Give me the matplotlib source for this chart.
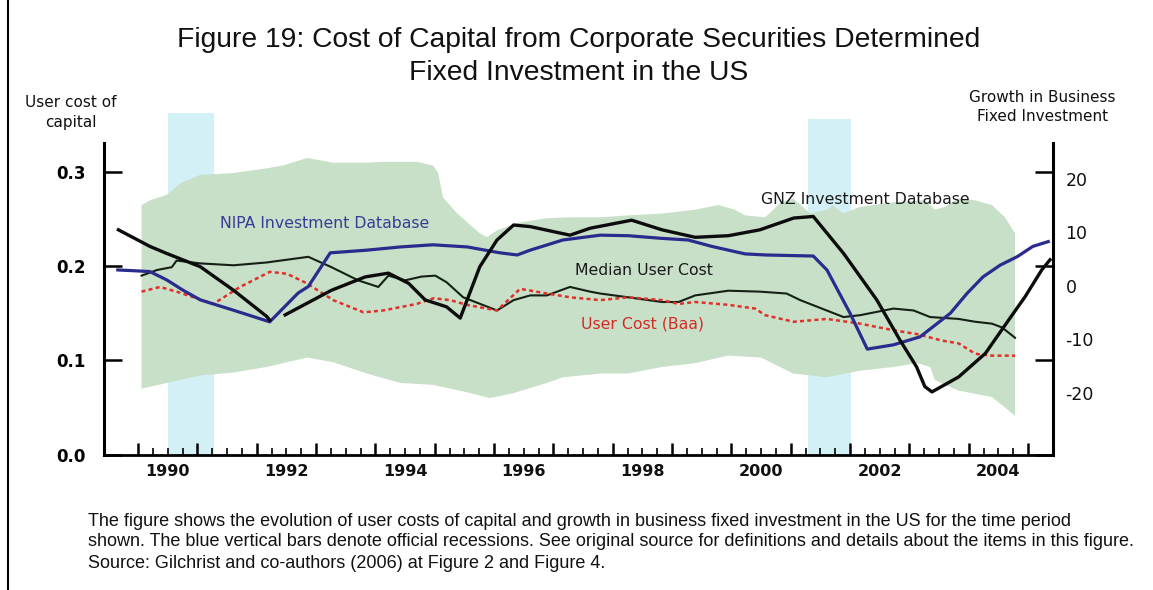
import matplotlib
matplotlib.use("Agg")
import matplotlib.pyplot as plt
import matplotlib.transforms as mtransforms
from matplotlib.lines import Line2D
import numpy as np

# ---------------- data ----------------
recession_start = [1990.51, 2001.29]
recession_end = [1991.28, 2002.02]

band_upper_year = [1990.06, 1990.20, 1990.49, 1990.71, 1991.05, 1991.60, 1992.17, 1992.44, 1992.85, 1993.29,
                   1993.86, 1994.13, 1994.70, 1994.97, 1995.06, 1995.14, 1995.38, 1995.76, 1995.88, 1996.05,
                   1996.39, 1996.89, 1997.28, 1997.79, 1998.26, 1998.83, 1999.39, 1999.78, 2000.06, 2000.23,
                   2000.57, 2000.82, 2001.04, 2001.33, 2001.61, 2001.71, 2001.88, 2002.17, 2002.73, 2003.26,
                   2003.43, 2003.60, 2003.82, 2004.11, 2004.39, 2004.61, 2004.78]
band_upper = [0.265, 0.270, 0.276, 0.288, 0.297, 0.299, 0.304, 0.307, 0.315, 0.310,
              0.310, 0.311, 0.311, 0.307, 0.299, 0.273, 0.256, 0.235, 0.231, 0.238,
              0.246, 0.251, 0.252, 0.252, 0.254, 0.256, 0.260, 0.265, 0.260, 0.254,
              0.252, 0.267, 0.272, 0.256, 0.260, 0.265, 0.256, 0.263, 0.268, 0.270,
              0.260, 0.263, 0.272, 0.270, 0.265, 0.252, 0.235]

band_lower_year = [1990.06, 1990.49, 1991.05, 1991.60, 1992.17, 1992.85, 1993.29, 1993.86, 1994.42, 1994.97,
                   1995.55, 1995.93, 1996.32, 1996.89, 1997.16, 1997.79, 1998.26, 1998.83, 1999.39, 1999.94,
                   2000.50, 2001.04, 2001.61, 2002.17, 2002.73, 2003.13, 2003.35, 2003.43, 2003.82, 2004.39,
                   2004.61, 2004.78]
band_lower = [0.070, 0.076, 0.084, 0.087, 0.093, 0.103, 0.098, 0.086, 0.076, 0.074,
              0.066, 0.060, 0.065, 0.076, 0.082, 0.086, 0.086, 0.093, 0.097, 0.105,
              0.103, 0.086, 0.082, 0.089, 0.093, 0.097, 0.093, 0.079, 0.068, 0.061,
              0.050, 0.041]

median_year = [1990.06, 1990.32, 1990.57, 1990.65, 1991.05, 1991.61, 1992.17, 1992.87, 1993.26, 1993.71,
               1994.05, 1994.22, 1994.50, 1994.78, 1995.01, 1995.20, 1995.48, 1996.05, 1996.33, 1996.61,
               1996.89, 1997.28, 1997.62, 1997.79, 1998.26, 1998.83, 1999.11, 1999.39, 1999.95, 2000.48,
               2000.93, 2001.16, 2001.89, 2002.17, 2002.73, 2003.07, 2003.35, 2003.83, 2004.11, 2004.39,
               2004.56, 2004.78]
median_cost = [0.190, 0.196, 0.199, 0.206, 0.203, 0.201, 0.204, 0.210, 0.199, 0.185,
               0.178, 0.190, 0.185, 0.189, 0.190, 0.183, 0.167, 0.153, 0.164, 0.169,
               0.169, 0.178, 0.173, 0.171, 0.167, 0.162, 0.162, 0.169, 0.174, 0.173,
               0.171, 0.164, 0.146, 0.148, 0.155, 0.153, 0.146, 0.144, 0.141, 0.139,
               0.135, 0.124]

baa_year = [1990.06, 1990.37, 1990.65, 1991.27, 1991.72, 1992.22, 1992.51, 1992.84, 1993.29, 1993.80,
            1994.13, 1994.70, 1994.98, 1995.26, 1995.54, 1996.05, 1996.44, 1996.89, 1997.28, 1997.79,
            1998.26, 1998.83, 1999.11, 1999.39, 1999.95, 2000.40, 2000.57, 2001.05, 2001.61, 2002.17,
            2002.73, 2003.12, 2003.55, 2003.83, 2004.11, 2004.39, 2004.78]
baa_cost = [0.173, 0.178, 0.173, 0.160, 0.178, 0.194, 0.192, 0.182, 0.164, 0.151,
            0.153, 0.160, 0.166, 0.164, 0.159, 0.153, 0.176, 0.171, 0.167, 0.164,
            0.167, 0.164, 0.160, 0.162, 0.159, 0.155, 0.148, 0.141, 0.144, 0.139,
            0.132, 0.128, 0.121, 0.118, 0.107, 0.105, 0.105]

nipa_year = [1989.66, 1990.20, 1990.49, 1990.76, 1991.05, 1991.60, 1992.22, 1992.70, 1992.87, 1993.24,
             1993.86, 1994.42, 1994.97, 1995.55, 1996.10, 1996.39, 1996.61, 1997.16, 1997.79, 1998.26,
             1998.83, 1999.27, 1999.67, 2000.23, 2000.57, 2001.38, 2001.61, 2002.00, 2002.29, 2002.73,
             2003.18, 2003.40, 2003.69, 2003.97, 2004.24, 2004.53, 2004.82, 2005.08, 2005.34]
nipa_growth = [3.0, 2.7, 1.1, -0.8, -2.6, -4.5, -6.7, -1.3, -0.1, 6.2,
               6.7, 7.3, 7.7, 7.3, 6.2, 5.8, 6.7, 8.6, 9.5, 9.4,
               8.9, 8.6, 7.4, 6.0, 5.8, 5.6, 3.0, -5.1, -11.8, -11.0,
               -9.5, -7.6, -5.1, -1.4, 1.7, 3.9, 5.5, 7.4, 8.3]

gnz_year = [1989.67, 1990.20, 1990.48, 1991.05, 1991.61, 1992.17, 1992.22, 1992.35, 1992.48, 1993.26,
            1993.83, 1994.22, 1994.56, 1994.84, 1995.20, 1995.43, 1995.76, 1996.05, 1996.33, 1996.61,
            1997.28, 1997.62, 1998.32, 1998.83, 1999.39, 1999.95, 2000.48, 2001.05, 2001.38, 2001.89,
            2002.45, 2002.84, 2003.12, 2003.26, 2003.38, 2003.83, 2004.28, 2004.67, 2004.95, 2005.23,
            2005.37]
gnz_growth = [10.5, 7.4, 6.1, 3.6, -0.8, -5.7, -6.4, np.nan, -5.4, -0.8,
              1.7, 2.4, 0.5, -2.6, -3.9, -6.0, 3.6, 8.6, 11.4, 11.1,
              9.5, 10.8, 12.3, 10.5, 9.1, 9.4, 10.5, 12.7, 13.0, 6.1,
              -2.6, -10.1, -15.1, -18.8, -19.8, -17.0, -12.6, -6.4, -2.0, 3.0,
              4.9]

left_ticks = [0.0, 0.1, 0.2, 0.3]
left_ticklabels = ["0.0", "0.1", "0.2", "0.3"]
right_ticks = [20, 10, 0, -10, -20]
year_labels = [1990, 1992, 1994, 1996, 1998, 2000, 2002, 2004]

title_lines = ["Figure 19: Cost of Capital from Corporate Securities Determined",
               "Fixed Investment in the US"]
caption_lines = [
    "The figure shows the evolution of user costs of capital and growth in business fixed investment in the US for the time period",
    "shown. The blue vertical bars denote official recessions. See original source for definitions and details about the items in this figure.",
    "Source: Gilchrist and co-authors (2006) at Figure 2 and Figure 4.",
]

# ---------------- figure ----------------
W, H = 1153, 590
fig = plt.figure(figsize=(W / 100, H / 100), dpi=100)
fig.patch.set_facecolor("white")

ax_l, ax_r, ax_b, ax_t = 104, 1053, 454.5, 143
ax = fig.add_axes([ax_l / W, (H - ax_b) / H, (ax_r - ax_l) / W, (ax_b - ax_t) / H])
ax.set_facecolor("none")

VTOP = 0.3309
RBOT, RTOP = -31.5, 26.73
ax.set_xlim(1989.427, 2005.42)
ax.set_ylim(0, VTOP)

GREEN = "#c8e0c8"
CYAN = "#d2f0f6"
NAVY = "#2b2b8e"
RED = "#e0302a"

# recession bars extend above the plotting area
bar_tops = [(ax_b - 113) / (ax_b - ax_t), (ax_b - 119) / (ax_b - ax_t)]
for s, e, tp in zip(recession_start, recession_end, bar_tops):
    p = ax.axvspan(s, e, ymin=0, ymax=tp, color=CYAN, lw=0, zorder=0.5)
    p.set_clip_on(False)

# green band
ax.fill(list(band_upper_year) + list(band_lower_year[::-1]),
        list(band_upper) + list(band_lower[::-1]),
        color=GREEN, lw=0, zorder=1)

ax.plot(median_year, median_cost, color="#142014", lw=1.5, zorder=3)
ax.plot(baa_year, baa_cost, color=RED, lw=1.8, ls=(0, (1.6, 1.3)), zorder=3)

tw = ax.twinx()
tw.set_ylim(RBOT, RTOP)
tw.plot(nipa_year, nipa_growth, color=NAVY, lw=2.3, zorder=4)
tw.plot(gnz_year, gnz_growth, color="#0c0c0c", lw=2.4, zorder=5)

# spines
for sp in ["top", "right"]:
    ax.spines[sp].set_visible(False)
for sp in ["top", "left", "bottom"]:
    tw.spines[sp].set_visible(False)
ax.spines["left"].set_linewidth(2.2)
ax.spines["bottom"].set_linewidth(2.0)
tw.spines["right"].set_linewidth(2.2)

# y ticks left
ax.set_yticks(left_ticks)
ax.set_yticklabels(left_ticklabels)
ax.tick_params(axis="y", which="major", direction="in", length=13, width=1.8, pad=13,
               left=True, right=True, labelright=False, labelsize=12)
for lab in ax.get_yticklabels():
    lab.set_fontweight("bold")
    lab.set_family("DejaVu Sans")

# x ticks
ax.set_xticks(np.arange(1990, 2006, 1))
ax.set_xticks(np.arange(1990, 2005.01, 0.25), minor=True)
ax.tick_params(axis="x", which="major", direction="in", length=8.5, width=1.8, labelbottom=False)
ax.tick_params(axis="x", which="minor", direction="in", length=5, width=1.2)
trans = mtransforms.blended_transform_factory(ax.transData, ax.transAxes)
for yr in year_labels:
    ax.text(yr + 0.5, -(472 - ax_b) / (ax_b - ax_t), str(yr), transform=trans, ha="center", va="center",
            fontsize=11.5, fontweight="bold", family="DejaVu Sans", color="#111")

# right ticks
tw.set_yticks(right_ticks)
tw.set_yticklabels([str(v) for v in right_ticks])
tw.tick_params(axis="y", length=0, pad=9, labelsize=12.5, colors="#111")

# series labels
ax.text(1993.15, 0.245, "NIPA Investment Database", color="#3a3a96", fontsize=11.3,
        ha="center", va="center", zorder=6)
ax.text(1998.53, 0.195, "Median User Cost", color="#1a1a1a", fontsize=11.3,
        ha="center", va="center", zorder=6)
ax.text(1998.51, 0.139, "User Cost (Baa)", color="#d42a24", fontsize=11.3,
        ha="center", va="center", zorder=6)
ax.text(2002.25, 0.271, "GNZ Investment Database", color="#1a1a1a", fontsize=11.3,
        ha="center", va="center", zorder=6)

# axis titles
fig.text(70.5 / W, 1 - 112.5 / H, "User cost of\ncapital", ha="center", va="center",
         fontsize=11, linespacing=1.4, color="#111")
fig.text(1042.5 / W, 1 - 107 / H, "Growth in Business\nFixed Investment", ha="center", va="center",
         fontsize=11, linespacing=1.33, color="#111")

# fitting helper for title/caption
renderer = fig.canvas.get_renderer()


def fit_size(text, family, target_px, base=12.0):
    t = fig.text(0, 0, text, fontsize=base, family=family)
    w = t.get_window_extent(renderer=renderer).width
    t.remove()
    return base * target_px / w


ts = fit_size(title_lines[0], "Liberation Sans", 807)
fig.text(578.5 / W, 1 - 40 / H, title_lines[0], ha="center", va="center", fontsize=ts,
         family="Liberation Sans", color="#111")
fig.text(578.5 / W, 1 - 73 / H, title_lines[1], ha="center", va="center", fontsize=ts,
         family="Liberation Sans", color="#111")

# caption: keep the longest line (line 2) inside the page
cs = fit_size(caption_lines[1], "Liberation Sans", 1050)
for i, line in enumerate(caption_lines):
    fig.text(88 / W, 1 - (521 + 21 * i) / H, line, ha="left", va="center", fontsize=cs,
             family="Liberation Sans", color="#111")

# page border at left
fig.add_artist(Line2D([8 / W, 8 / W], [0, 1], transform=fig.transFigure, color="black", lw=1.5))

fig.savefig("out.png", dpi=100)
